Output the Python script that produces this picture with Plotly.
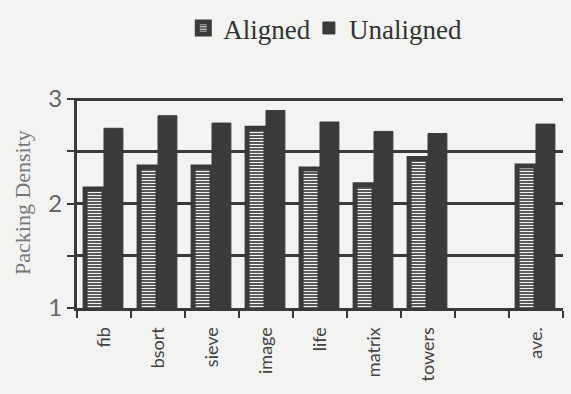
import plotly.graph_objects as go

categories = ["fib", "bsort", "sieve", "image", "life", "matrix", "towers", " ", "ave."]
aligned = [2.14, 2.35, 2.35, 2.72, 2.33, 2.18, 2.43, None, 2.36]
unaligned = [2.72, 2.84, 2.77, 2.89, 2.78, 2.69, 2.67, None, 2.76]
y_tickvals = [1, 1.5, 2, 2.5, 3]
y_ticktext = ["1", "", "2", "", "3"]

dark = "#3a3a3a"
bg = "#f3f3f1"

fig = go.Figure()
fig.add_trace(go.Bar(
    name="Aligned", x=categories, y=aligned, legend="legend",
    marker=dict(color=dark, line=dict(color=dark, width=5),
                pattern=dict(shape="-", fgcolor="#f2f2f2", bgcolor=dark,
                             size=3, solidity=0.45, fillmode="replace")),
))
fig.add_trace(go.Bar(
    name="Unaligned", x=categories, y=unaligned, legend="legend2",
    marker=dict(color=dark, line=dict(color=dark, width=1)),
))

legend_common = dict(orientation="h", xanchor="left", xref="container",
                     y=0.99, yanchor="top", yref="container",
                     font=dict(family="Liberation Serif", size=27, color="#333"),
                     itemwidth=30, bgcolor="rgba(0,0,0,0)")

fig.update_layout(
    width=571, height=394,
    paper_bgcolor=bg, plot_bgcolor=bg,
    margin=dict(l=77, r=8, t=98, b=86, autoexpand=False),
    barmode="group", bargap=0.3, bargroupgap=0,
    showlegend=True,
    legend=dict(x=0.321, **legend_common),
    legend2=dict(x=0.541, **legend_common),
    font=dict(family="Lato", color="#444"),
)
fig.update_xaxes(
    type="category", range=[-0.5, 8.5], automargin=False,
    showline=True, linecolor=dark, linewidth=3,
    ticks="outside", tickson="boundaries", ticklen=7, tickwidth=2, tickcolor=dark,
    tickangle=-90, ticklabelstandoff=9,
    tickfont=dict(family="Lato", size=18, color="#444"),
    showgrid=False, fixedrange=True,
)
fig.update_yaxes(
    range=[1, 3.01], tickvals=y_tickvals, ticktext=y_ticktext, automargin=False,
    showline=True, linecolor=dark, linewidth=3,
    ticks="outside", ticklen=7, tickwidth=2, tickcolor=dark,
    tickfont=dict(family="Lato", size=24, color="#666"),
    ticklabelstandoff=0,
    showgrid=True, gridcolor=dark, gridwidth=3, zeroline=False,
)
fig.add_annotation(
    text="Packing Density", textangle=-90,
    xref="paper", yref="paper", x=0, y=0.5, xanchor="center", yanchor="middle",
    xshift=-55, showarrow=False,
    font=dict(family="Liberation Serif", size=22, color="#777"),
)

fig.write_html("out.html", config={"displayModeBar": False},
               post_script="document.body.style.margin='0';document.body.style.background='%s';" % bg)
